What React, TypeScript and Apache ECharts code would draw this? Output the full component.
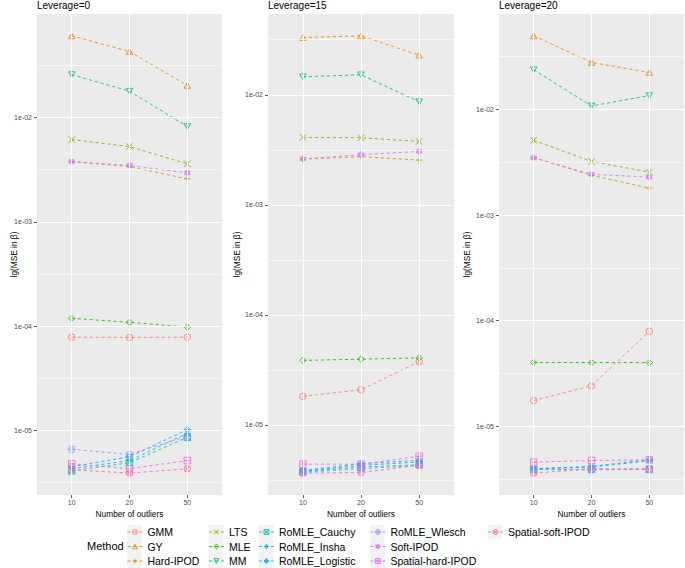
import React, { useEffect, useRef } from "react";
import * as echarts from "echarts";

const FONT = "'Liberation Sans', Arial, Helvetica, sans-serif";

const categories = ["10", "20", "50"];
const panelTitles = ["Leverage=0", "Leverage=15", "Leverage=20"];
const methods = [
  "GMM", "GY", "Hard-IPOD", "LTS", "MLE", "MM",
  "RoMLE_Cauchy", "RoMLE_Insha", "RoMLE_Logistic", "RoMLE_Wlesch",
  "Soft-IPOD", "Spatial-hard-IPOD", "Spatial-soft-IPOD",
];
const colors = [
  "#F8766D", "#E18A00", "#BE9C00", "#8CAB00", "#24B700", "#00BE70",
  "#00C1AB", "#00BBDA", "#00ACFC", "#8B93FF", "#D575FE", "#F962DD", "#FF65AC",
];

// MSE values per method (rows follow `methods`), columns follow `categories`
const leverage0 = [
  [7.85e-5, 7.8e-5, 7.85e-5],
  [0.0607, 0.043, 0.0203],
  [0.00378, 0.00339, 0.00258],
  [0.00615, 0.00527, 0.0036],
  [1.19e-4, 1.09e-4, 9.8e-5],
  [0.0258, 0.0179, 0.0082],
  [4.1e-6, 4.9e-6, 8.6e-6],
  [4.3e-6, 5.15e-6, 9.4e-6],
  [4.5e-6, 5.6e-6, 1.02e-5],
  [6.6e-6, 5.9e-6, 8.8e-6],
  [0.00379, 0.00347, 0.00295],
  [4.8e-6, 4.3e-6, 5.15e-6],
  [4.2e-6, 3.9e-6, 4.3e-6],
];
const leverage15 = [
  [1.82e-5, 2.09e-5, 3.76e-5],
  [0.0331, 0.0343, 0.0229],
  [0.0026, 0.00274, 0.00255],
  [0.0041, 0.00407, 0.00377],
  [3.86e-5, 3.96e-5, 4.07e-5],
  [0.01456, 0.0152, 0.00864],
  [3.75e-6, 4.14e-6, 4.35e-6],
  [3.8e-6, 4.3e-6, 4.6e-6],
  [3.86e-6, 4.45e-6, 4.77e-6],
  [3.7e-6, 4.0e-6, 4.3e-6],
  [0.00261, 0.00286, 0.00306],
  [4.41e-6, 4.4e-6, 5.2e-6],
  [3.65e-6, 3.7e-6, 4.3e-6],
];
const leverage20 = [
  [1.75e-5, 2.41e-5, 7.92e-5],
  [0.0498, 0.0279, 0.0224],
  [0.0035, 0.00238, 0.0018],
  [0.00509, 0.00322, 0.00255],
  [4.01e-5, 4.0e-5, 4.0e-5],
  [0.0238, 0.0108, 0.01355],
  [3.9e-6, 3.9e-6, 3.9e-6],
  [3.95e-6, 4.1e-6, 4.7e-6],
  [3.95e-6, 4.16e-6, 4.81e-6],
  [3.9e-6, 3.85e-6, 3.95e-6],
  [0.00349, 0.00243, 0.00229],
  [4.57e-6, 4.73e-6, 4.8e-6],
  [3.59e-6, 3.95e-6, 3.9e-6],
];

const yTickExponents = [-5, -4, -3, -2, -1];
const yTickLabels = ["1e-05", "1e-04", "1e-03", "1e-02", "1e-01"];

// ggplot shapes 1..13 as unit paths
const CIRCLE = "M1,0A1,1,0,1,1,-1,0A1,1,0,1,1,1,0Z";
const PLUS = "M-1,0L1,0M0,-1L0,1";
const CROSS = "M-0.707,-0.707L0.707,0.707M-0.707,0.707L0.707,-0.707";
const shapes = [
  CIRCLE,
  "M0,-1L0.866,0.5L-0.866,0.5Z",
  PLUS,
  CROSS,
  "M0,-1L1,0L0,1L-1,0Z",
  "M0,1L0.866,-0.5L-0.866,-0.5Z",
  "M-1,-1L1,-1L1,1L-1,1ZM-1,-1L1,1M-1,1L1,-1",
  PLUS + CROSS,
  "M0,-1L1,0L0,1L-1,0Z" + PLUS,
  CIRCLE + PLUS,
  "M0,-1L0.866,0.5L-0.866,0.5ZM0,1L0.866,-0.5L-0.866,-0.5Z",
  "M-1,-1L1,-1L1,1L-1,1Z" + PLUS,
  CIRCLE + CROSS,
];

const legendCols = [[0, 1, 2], [3, 4, 5], [6, 7, 8], [9, 10, 11], [12]];

const LINE_W = 0.85;
const DASH = [3.2, 2.8];

export default function App() {
  const ref = useRef<HTMLDivElement>(null);

  useEffect(() => {
    if (!ref.current) return;
    const chart = echarts.init(ref.current, undefined, { renderer: "svg" });
    const panels = [leverage0, leverage15, leverage20];
    const gridLefts = [37, 268, 499];
    const gridWidths = [185, 186, 185];
    const gridTop = 14;
    const gridHeight = 481;
    const yNameGaps = [19, 27, 28];

    const grids = gridLefts.map((l, i) => ({
      left: l,
      top: gridTop,
      width: gridWidths[i],
      height: gridHeight,
      show: true,
      backgroundColor: "#EBEBEB",
      borderWidth: 0,
    }));

    const xAxes: any[] = [];
    const yAxes: any[] = [];
    const series: any[] = [];

    panels.forEach((panel, i) => {
      const logs = panel.flat().map((v) => Math.log10(v));
      const lo = Math.min(...logs);
      const hi = Math.max(...logs);
      const pad = (hi - lo) * 0.05;
      const yMin = lo - pad;
      const yMax = hi + pad;
      const majors = yTickExponents.filter((e) => e >= yMin && e <= yMax);
      const minors = yTickExponents
        .map((e) => e - 0.5)
        .concat([-0.5])
        .filter((e) => e >= yMin && e <= yMax);

      xAxes.push({
        type: "value",
        gridIndex: i,
        min: 0.4,
        max: 3.6,
        axisLine: { show: false },
        splitLine: { show: false },
        axisTick: {
          show: true,
          length: 3,
          customValues: [1, 2, 3],
          lineStyle: { color: "#333333", width: 0.8 },
        },
        axisLabel: {
          customValues: [1, 2, 3],
          formatter: (v: number) => categories[Math.round(v) - 1] ?? "",
          color: "#4D4D4D",
          fontSize: 7,
          margin: 4,
          fontFamily: FONT,
        },
        name: "Number of outliers",
        nameLocation: "middle",
        nameGap: 15,
        nameMoveOverlap: false,
        nameTextStyle: { fontSize: 8.3, color: "#000000", fontFamily: FONT },
      });

      yAxes.push({
        type: "value",
        gridIndex: i,
        min: yMin,
        max: yMax,
        axisLine: { show: false },
        splitLine: { show: false },
        axisTick: {
          show: true,
          length: 3,
          customValues: majors,
          lineStyle: { color: "#333333", width: 0.8 },
        },
        axisLabel: {
          customValues: majors,
          formatter: (v: number) =>
            yTickLabels[yTickExponents.indexOf(Math.round(v))] ?? "",
          color: "#4D4D4D",
          fontSize: 7,
          margin: 5,
          fontFamily: FONT,
        },
        name: "lg(MSE in β)",
        nameLocation: "middle",
        nameRotate: 90,
        nameGap: yNameGaps[i],
        nameMoveOverlap: false,
        nameTextStyle: { fontSize: 8.3, color: "#000000", fontFamily: FONT },
      });

      // panel grid lines
      series.push({
        type: "line",
        name: "__grid" + i,
        xAxisIndex: i,
        yAxisIndex: i,
        data: [],
        silent: true,
        z: 1,
        markLine: {
          silent: true,
          symbol: ["none", "none"],
          label: { show: false },
          emphasis: { disabled: true },
          data: [
            ...majors.map((v) => ({
              yAxis: v,
              lineStyle: { color: "#FFFFFF", width: 1.1, type: "solid" },
            })),
            ...minors.map((v) => ({
              yAxis: v,
              lineStyle: { color: "#FFFFFF", width: 0.55, type: "solid" },
            })),
            ...[1, 2, 3].map((v) => ({
              xAxis: v,
              lineStyle: { color: "#FFFFFF", width: 1.1, type: "solid" },
            })),
          ],
        },
      });

      panel.forEach((vals, j) => {
        series.push({
          type: "line",
          name: methods[j],
          xAxisIndex: i,
          yAxisIndex: i,
          z: 3,
          data: vals.map((v, k) => [k + 1, Math.log10(v)]),
          symbol: "path://" + shapes[j],
          symbolSize: 6.5,
          symbolKeepAspect: true,
          itemStyle: {
            color: "rgba(255,255,255,0)",
            borderColor: colors[j],
            borderWidth: LINE_W,
          },
          lineStyle: { color: colors[j], width: LINE_W, type: DASH },
          emphasis: { disabled: true },
        });
      });
    });

    const colLefts = [127, 208.5, 258.5, 370, 487.5];
    const itemWidth = 15;
    const rowCenters = [532, 546.5, 561];
    const rowH = 14.5;

    const legends = legendCols.map((col, c) => ({
      orient: "vertical",
      left: colLefts[c],
      top: rowCenters[0] - rowH / 2,
      height: 50,
      padding: 0,
      itemGap: 0,
      itemWidth: itemWidth,
      itemHeight: 6,
      selectedMode: false,
      data: col.map((j) => ({
        name: methods[j],
        itemStyle: {
          color: "rgba(255,255,255,0)",
          borderColor: colors[j],
          borderWidth: LINE_W,
        },
        lineStyle: { color: colors[j], width: LINE_W, type: DASH },
      })),
      textStyle: {
        fontSize: 10.5,
        lineHeight: rowH,
        color: "#000000",
        fontFamily: FONT,
      },
    }));

    const keyRects = legendCols.flatMap((col, c) =>
      col.map((_, r) => ({
        type: "rect",
        z: 0,
        silent: true,
        shape: {
          x: colLefts[c] + itemWidth / 2 - rowH / 2,
          y: rowCenters[r] - rowH / 2,
          width: rowH,
          height: rowH,
        },
        style: { fill: "#F2F2F2" },
      }))
    );

    chart.setOption({
      animation: false,
      backgroundColor: "#FFFFFF",
      textStyle: { fontFamily: FONT },
      title: panelTitles.map((t, i) => ({
        text: t,
        left: gridLefts[i],
        top: 0,
        padding: 0,
        textStyle: {
          fontSize: 10,
          fontWeight: "normal",
          color: "#000000",
          fontFamily: FONT,
          lineHeight: 11,
        },
      })),
      grid: grids,
      xAxis: xAxes,
      yAxis: yAxes,
      legend: legends,
      graphic: [
        ...keyRects,
        {
          type: "text",
          left: 87,
          top: 540,
          silent: true,
          style: {
            text: "Method",
            fontSize: 11,
            fill: "#000000",
            fontFamily: FONT,
          },
        },
      ],
      series,
    });

    return () => chart.dispose();
  }, []);

  return (
    <div
      ref={ref}
      style={{ position: "fixed", left: 0, top: 0, width: 685, height: 568 }}
    />
  );
}
